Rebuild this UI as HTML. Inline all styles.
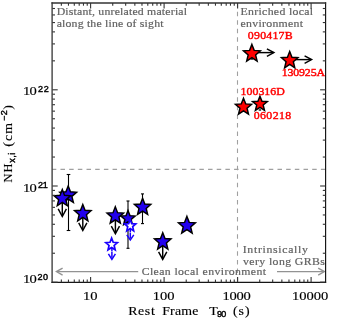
<!DOCTYPE html>
<html><head><meta charset="utf-8"><title>NH vs Rest Frame T90</title>
<style>
html,body{margin:0;padding:0;background:#fff;}
body{width:346px;height:325px;overflow:hidden;position:relative;font-family:"Liberation Serif",serif;}
svg text{white-space:pre;}
</style></head><body>
<svg width="346" height="325" viewBox="0 0 346 325" style="position:absolute;left:0;top:0;will-change:transform">
<rect x="0" y="0" width="346" height="325" fill="#fff"/>
<line x1="52.30" y1="169.40" x2="325.50" y2="169.40" stroke="#a0a0a0" stroke-width="1.10" stroke-dasharray="4.5 4.18" stroke-dashoffset="0.5"/>
<line x1="237.50" y1="3.00" x2="237.50" y2="282.30" stroke="#a0a0a0" stroke-width="1.10" stroke-dasharray="4.5 4.06" stroke-dashoffset="-0.1"/>
<line x1="138.20" y1="271.60" x2="56.90" y2="271.60" stroke="#929292" stroke-width="1.35" />
<polyline points="62.60,268.10 56.40,271.60 62.60,275.10" fill="none" stroke="#929292" stroke-width="1.35" stroke-linejoin="miter"/>
<line x1="277.00" y1="271.60" x2="323.90" y2="271.60" stroke="#929292" stroke-width="1.35" />
<polyline points="318.20,268.10 324.40,271.60 318.20,275.10" fill="none" stroke="#929292" stroke-width="1.35" stroke-linejoin="miter"/>
<text transform="translate(56.65,15.20) scale(1.180,1.000)" font-family="'Liberation Serif'" font-size="10.00px" font-weight="normal" letter-spacing="0.166" fill="#626262" stroke="#626262" stroke-width="0.18">Distant, unrelated material</text>
<text transform="translate(56.65,26.70) scale(1.180,1.000)" font-family="'Liberation Serif'" font-size="10.00px" font-weight="normal" letter-spacing="0.158" fill="#626262" stroke="#626262" stroke-width="0.18">along the line of sight</text>
<text transform="translate(240.55,15.20) scale(1.180,1.000)" font-family="'Liberation Serif'" font-size="10.00px" font-weight="normal" letter-spacing="0.269" fill="#626262" stroke="#626262" stroke-width="0.18">Enriched local</text>
<text transform="translate(240.55,26.50) scale(1.180,1.000)" font-family="'Liberation Serif'" font-size="10.00px" font-weight="normal" letter-spacing="0.247" fill="#626262" stroke="#626262" stroke-width="0.18">environment</text>
<text transform="translate(242.75,253.40) scale(1.180,1.000)" font-family="'Liberation Serif'" font-size="10.00px" font-weight="normal" letter-spacing="0.579" fill="#626262" stroke="#626262" stroke-width="0.18">Intrinsically</text>
<text transform="translate(243.00,265.10) scale(1.180,1.000)" font-family="'Liberation Serif'" font-size="10.00px" font-weight="normal" letter-spacing="0.345" fill="#626262" stroke="#626262" stroke-width="0.18">very long GRBs</text>
<text transform="translate(141.65,274.80) scale(1.180,1.000)" font-family="'Liberation Serif'" font-size="10.00px" font-weight="normal" letter-spacing="0.328" fill="#626262" stroke="#626262" stroke-width="0.18">Clean local environment</text>
<line x1="68.50" y1="174.50" x2="68.50" y2="230.50" stroke="#000" stroke-width="1.10" />
<line x1="66.70" y1="174.50" x2="70.30" y2="174.50" stroke="#000" stroke-width="1.10" />
<line x1="66.70" y1="230.50" x2="70.30" y2="230.50" stroke="#000" stroke-width="1.10" />
<line x1="128.00" y1="201.00" x2="128.00" y2="248.30" stroke="#000" stroke-width="1.10" />
<line x1="126.50" y1="201.00" x2="129.50" y2="201.00" stroke="#000" stroke-width="1.10" />
<line x1="126.50" y1="248.30" x2="129.50" y2="248.30" stroke="#000" stroke-width="1.10" />
<line x1="142.50" y1="193.90" x2="142.50" y2="223.60" stroke="#000" stroke-width="1.10" />
<line x1="141.00" y1="193.90" x2="144.00" y2="193.90" stroke="#000" stroke-width="1.10" />
<line x1="141.00" y1="223.60" x2="144.00" y2="223.60" stroke="#000" stroke-width="1.10" />
<line x1="62.30" y1="199.00" x2="62.30" y2="216.00" stroke="#000" stroke-width="1.45" />
<polyline points="58.20,208.90 62.30,216.50 66.40,208.90" fill="none" stroke="#000" stroke-width="1.45" stroke-linejoin="miter"/>
<line x1="82.80" y1="213.50" x2="82.80" y2="230.00" stroke="#000" stroke-width="1.45" />
<polyline points="78.70,222.90 82.80,230.50 86.90,222.90" fill="none" stroke="#000" stroke-width="1.45" stroke-linejoin="miter"/>
<line x1="115.40" y1="215.20" x2="115.40" y2="233.20" stroke="#000" stroke-width="1.45" />
<polyline points="111.30,226.10 115.40,233.70 119.50,226.10" fill="none" stroke="#000" stroke-width="1.45" stroke-linejoin="miter"/>
<line x1="162.70" y1="241.50" x2="162.70" y2="258.90" stroke="#000" stroke-width="1.45" />
<polyline points="158.60,251.80 162.70,259.40 166.80,251.80" fill="none" stroke="#000" stroke-width="1.45" stroke-linejoin="miter"/>
<polygon points="68.20,185.95 70.48,191.84 76.57,192.27 71.88,196.34 73.37,202.50 68.20,199.13 63.03,202.50 64.52,196.34 59.83,192.27 65.92,191.84" fill="#2200ee" stroke="#000" stroke-width="1.45" stroke-miterlimit="10" stroke-linejoin="miter"/>
<polygon points="128.00,210.60 129.94,215.62 135.13,215.99 131.14,219.46 132.41,224.71 128.00,221.83 123.59,224.71 124.86,219.46 120.87,215.99 126.06,215.62" fill="#2200ee" stroke="#000" stroke-width="1.45" stroke-miterlimit="10" stroke-linejoin="miter"/>
<polygon points="142.60,198.26 144.82,204.02 150.78,204.44 146.20,208.42 147.65,214.44 142.60,211.14 137.55,214.44 139.00,208.42 134.42,204.44 140.38,204.02" fill="#2200ee" stroke="#000" stroke-width="1.45" stroke-miterlimit="10" stroke-linejoin="miter"/>
<polygon points="186.93,216.39 189.23,222.36 195.39,222.79 190.65,226.91 192.16,233.14 186.93,229.72 181.70,233.14 183.21,226.91 178.47,222.79 184.63,222.36" fill="#2200ee" stroke="#000" stroke-width="1.45" stroke-miterlimit="10" stroke-linejoin="miter"/>
<polygon points="62.30,189.56 64.52,195.32 70.48,195.74 65.90,199.72 67.35,205.74 62.30,202.44 57.25,205.74 58.70,199.72 54.12,195.74 60.08,195.32" fill="#2200ee" stroke="#000" stroke-width="1.45" stroke-miterlimit="10" stroke-linejoin="miter"/>
<polygon points="82.80,204.45 85.05,210.28 91.07,210.70 86.44,214.73 87.91,220.82 82.80,217.48 77.69,220.82 79.16,214.73 74.53,210.70 80.55,210.28" fill="#2200ee" stroke="#000" stroke-width="1.45" stroke-miterlimit="10" stroke-linejoin="miter"/>
<polygon points="115.30,206.85 117.55,212.68 123.57,213.10 118.94,217.13 120.41,223.22 115.30,219.88 110.19,223.22 111.66,217.13 107.03,213.10 113.05,212.68" fill="#2200ee" stroke="#000" stroke-width="1.45" stroke-miterlimit="10" stroke-linejoin="miter"/>
<polygon points="162.75,232.70 165.00,238.53 171.02,238.95 166.39,242.98 167.86,249.07 162.75,245.73 157.64,249.07 159.11,242.98 154.48,238.95 160.50,238.53" fill="#2200ee" stroke="#000" stroke-width="1.45" stroke-miterlimit="10" stroke-linejoin="miter"/>
<line x1="111.90" y1="245.20" x2="111.90" y2="258.90" stroke="#1a00ff" stroke-width="1.50" stroke-dasharray="6 0.6"/>
<polyline points="108.40,253.90 111.90,259.40 115.40,253.90" fill="none" stroke="#1a00ff" stroke-width="1.50" stroke-linejoin="miter"/>
<polygon points="111.60,238.13 113.18,242.30 117.40,242.60 114.15,245.48 115.19,249.83 111.60,247.45 108.01,249.83 109.05,245.48 105.80,242.60 110.02,242.30" fill="#fff" stroke="#1a00ff" stroke-width="1.70" stroke-miterlimit="10" stroke-linejoin="miter"/>
<line x1="130.30" y1="226.00" x2="130.30" y2="239.40" stroke="#1a00ff" stroke-width="1.50" stroke-dasharray="6 0.6"/>
<polyline points="126.80,234.90 130.30,239.90 133.80,234.90" fill="none" stroke="#1a00ff" stroke-width="1.50" stroke-linejoin="miter"/>
<polygon points="130.20,219.55 131.73,223.57 135.81,223.87 132.67,226.65 133.67,230.86 130.20,228.55 126.73,230.86 127.73,226.65 124.59,223.87 128.67,223.57" fill="#fff" stroke="#1a00ff" stroke-width="1.70" stroke-miterlimit="10" stroke-linejoin="miter"/>
<line x1="252.00" y1="52.60" x2="273.40" y2="52.60" stroke="#000" stroke-width="1.45" />
<polyline points="266.90,48.80 273.90,52.60 266.90,56.40" fill="none" stroke="#000" stroke-width="1.45" stroke-linejoin="miter"/>
<line x1="289.60" y1="59.60" x2="311.10" y2="59.60" stroke="#000" stroke-width="1.45" />
<polyline points="304.60,55.80 311.60,59.60 304.60,63.40" fill="none" stroke="#000" stroke-width="1.45" stroke-linejoin="miter"/>
<line x1="250.60" y1="59.00" x2="253.20" y2="59.00" stroke="#000" stroke-width="1.30" />
<line x1="258.70" y1="110.00" x2="261.10" y2="110.00" stroke="#000" stroke-width="1.30" />
<polygon points="251.90,44.39 254.20,50.36 260.36,50.79 255.62,54.91 257.13,61.14 251.90,57.72 246.67,61.14 248.18,54.91 243.44,50.79 249.60,50.36" fill="#ff0000" stroke="#000" stroke-width="1.45" stroke-miterlimit="10" stroke-linejoin="miter"/>
<polygon points="289.70,51.45 291.95,57.28 297.97,57.70 293.34,61.73 294.81,67.82 289.70,64.48 284.59,67.82 286.06,61.73 281.43,57.70 287.45,57.28" fill="#ff0000" stroke="#000" stroke-width="1.45" stroke-miterlimit="10" stroke-linejoin="miter"/>
<polygon points="243.50,98.16 245.70,103.85 251.58,104.27 247.06,108.20 248.50,114.15 243.50,110.89 238.50,114.15 239.94,108.20 235.42,104.27 241.30,103.85" fill="#ff0000" stroke="#000" stroke-width="1.45" stroke-miterlimit="10" stroke-linejoin="miter"/>
<polygon points="259.95,96.20 261.97,101.22 267.37,101.59 263.21,105.06 264.53,110.31 259.95,107.43 255.37,110.31 256.69,105.06 252.53,101.59 257.93,101.22" fill="#ff0000" stroke="#000" stroke-width="1.45" stroke-miterlimit="10" stroke-linejoin="miter"/>
<text transform="translate(247.85,39.00) scale(1.120,1.000)" font-family="'Liberation Serif'" font-size="10.60px" font-weight="normal" letter-spacing="0.193" fill="#ff0000" stroke="#ff0000" stroke-width="0.40">090417B</text>
<text transform="translate(281.65,76.20) scale(1.120,1.000)" font-family="'Liberation Serif'" font-size="10.60px" font-weight="normal" letter-spacing="-0.118" fill="#ff0000" stroke="#ff0000" stroke-width="0.40">130925A</text>
<text transform="translate(240.45,94.70) scale(1.120,1.000)" font-family="'Liberation Serif'" font-size="10.60px" font-weight="normal" letter-spacing="0.037" fill="#ff0000" stroke="#ff0000" stroke-width="0.40">100316D</text>
<text transform="translate(253.65,118.90) scale(1.120,1.000)" font-family="'Liberation Serif'" font-size="10.60px" font-weight="normal" letter-spacing="0.354" fill="#ff0000" stroke="#ff0000" stroke-width="0.40">060218</text>
<line x1="52.10" y1="2.35" x2="52.10" y2="283.05" stroke="#333" stroke-width="1.30" />
<line x1="325.60" y1="2.35" x2="325.60" y2="283.05" stroke="#111" stroke-width="1.15" />
<line x1="51.45" y1="3.00" x2="326.15" y2="3.00" stroke="#333" stroke-width="1.30" />
<line x1="51.45" y1="282.40" x2="326.15" y2="282.40" stroke="#161616" stroke-width="1.30" />
<line x1="61.35" y1="282.30" x2="61.35" y2="279.60" stroke="#333" stroke-width="1.10" />
<line x1="61.35" y1="3.00" x2="61.35" y2="5.70" stroke="#333" stroke-width="1.10" />
<line x1="68.47" y1="282.30" x2="68.47" y2="279.60" stroke="#333" stroke-width="1.10" />
<line x1="68.47" y1="3.00" x2="68.47" y2="5.70" stroke="#333" stroke-width="1.10" />
<line x1="74.29" y1="282.30" x2="74.29" y2="279.60" stroke="#333" stroke-width="1.10" />
<line x1="74.29" y1="3.00" x2="74.29" y2="5.70" stroke="#333" stroke-width="1.10" />
<line x1="79.21" y1="282.30" x2="79.21" y2="279.60" stroke="#333" stroke-width="1.10" />
<line x1="79.21" y1="3.00" x2="79.21" y2="5.70" stroke="#333" stroke-width="1.10" />
<line x1="83.48" y1="282.30" x2="83.48" y2="279.60" stroke="#333" stroke-width="1.10" />
<line x1="83.48" y1="3.00" x2="83.48" y2="5.70" stroke="#333" stroke-width="1.10" />
<line x1="87.24" y1="282.30" x2="87.24" y2="279.60" stroke="#333" stroke-width="1.10" />
<line x1="87.24" y1="3.00" x2="87.24" y2="5.70" stroke="#333" stroke-width="1.10" />
<line x1="90.60" y1="282.30" x2="90.60" y2="276.90" stroke="#333" stroke-width="1.10" />
<line x1="90.60" y1="3.00" x2="90.60" y2="8.40" stroke="#333" stroke-width="1.10" />
<line x1="112.73" y1="282.30" x2="112.73" y2="279.60" stroke="#333" stroke-width="1.10" />
<line x1="112.73" y1="3.00" x2="112.73" y2="5.70" stroke="#333" stroke-width="1.10" />
<line x1="125.67" y1="282.30" x2="125.67" y2="279.60" stroke="#333" stroke-width="1.10" />
<line x1="125.67" y1="3.00" x2="125.67" y2="5.70" stroke="#333" stroke-width="1.10" />
<line x1="134.85" y1="282.30" x2="134.85" y2="279.60" stroke="#333" stroke-width="1.10" />
<line x1="134.85" y1="3.00" x2="134.85" y2="5.70" stroke="#333" stroke-width="1.10" />
<line x1="141.97" y1="282.30" x2="141.97" y2="279.60" stroke="#333" stroke-width="1.10" />
<line x1="141.97" y1="3.00" x2="141.97" y2="5.70" stroke="#333" stroke-width="1.10" />
<line x1="147.79" y1="282.30" x2="147.79" y2="279.60" stroke="#333" stroke-width="1.10" />
<line x1="147.79" y1="3.00" x2="147.79" y2="5.70" stroke="#333" stroke-width="1.10" />
<line x1="152.71" y1="282.30" x2="152.71" y2="279.60" stroke="#333" stroke-width="1.10" />
<line x1="152.71" y1="3.00" x2="152.71" y2="5.70" stroke="#333" stroke-width="1.10" />
<line x1="156.98" y1="282.30" x2="156.98" y2="279.60" stroke="#333" stroke-width="1.10" />
<line x1="156.98" y1="3.00" x2="156.98" y2="5.70" stroke="#333" stroke-width="1.10" />
<line x1="160.74" y1="282.30" x2="160.74" y2="279.60" stroke="#333" stroke-width="1.10" />
<line x1="160.74" y1="3.00" x2="160.74" y2="5.70" stroke="#333" stroke-width="1.10" />
<line x1="164.10" y1="282.30" x2="164.10" y2="276.90" stroke="#333" stroke-width="1.10" />
<line x1="164.10" y1="3.00" x2="164.10" y2="8.40" stroke="#333" stroke-width="1.10" />
<line x1="186.23" y1="282.30" x2="186.23" y2="279.60" stroke="#333" stroke-width="1.10" />
<line x1="186.23" y1="3.00" x2="186.23" y2="5.70" stroke="#333" stroke-width="1.10" />
<line x1="199.17" y1="282.30" x2="199.17" y2="279.60" stroke="#333" stroke-width="1.10" />
<line x1="199.17" y1="3.00" x2="199.17" y2="5.70" stroke="#333" stroke-width="1.10" />
<line x1="208.35" y1="282.30" x2="208.35" y2="279.60" stroke="#333" stroke-width="1.10" />
<line x1="208.35" y1="3.00" x2="208.35" y2="5.70" stroke="#333" stroke-width="1.10" />
<line x1="215.47" y1="282.30" x2="215.47" y2="279.60" stroke="#333" stroke-width="1.10" />
<line x1="215.47" y1="3.00" x2="215.47" y2="5.70" stroke="#333" stroke-width="1.10" />
<line x1="221.29" y1="282.30" x2="221.29" y2="279.60" stroke="#333" stroke-width="1.10" />
<line x1="221.29" y1="3.00" x2="221.29" y2="5.70" stroke="#333" stroke-width="1.10" />
<line x1="226.21" y1="282.30" x2="226.21" y2="279.60" stroke="#333" stroke-width="1.10" />
<line x1="226.21" y1="3.00" x2="226.21" y2="5.70" stroke="#333" stroke-width="1.10" />
<line x1="230.48" y1="282.30" x2="230.48" y2="279.60" stroke="#333" stroke-width="1.10" />
<line x1="230.48" y1="3.00" x2="230.48" y2="5.70" stroke="#333" stroke-width="1.10" />
<line x1="234.24" y1="282.30" x2="234.24" y2="279.60" stroke="#333" stroke-width="1.10" />
<line x1="234.24" y1="3.00" x2="234.24" y2="5.70" stroke="#333" stroke-width="1.10" />
<line x1="237.60" y1="282.30" x2="237.60" y2="276.90" stroke="#333" stroke-width="1.10" />
<line x1="237.60" y1="3.00" x2="237.60" y2="8.40" stroke="#333" stroke-width="1.10" />
<line x1="259.73" y1="282.30" x2="259.73" y2="279.60" stroke="#333" stroke-width="1.10" />
<line x1="259.73" y1="3.00" x2="259.73" y2="5.70" stroke="#333" stroke-width="1.10" />
<line x1="272.67" y1="282.30" x2="272.67" y2="279.60" stroke="#333" stroke-width="1.10" />
<line x1="272.67" y1="3.00" x2="272.67" y2="5.70" stroke="#333" stroke-width="1.10" />
<line x1="281.85" y1="282.30" x2="281.85" y2="279.60" stroke="#333" stroke-width="1.10" />
<line x1="281.85" y1="3.00" x2="281.85" y2="5.70" stroke="#333" stroke-width="1.10" />
<line x1="288.97" y1="282.30" x2="288.97" y2="279.60" stroke="#333" stroke-width="1.10" />
<line x1="288.97" y1="3.00" x2="288.97" y2="5.70" stroke="#333" stroke-width="1.10" />
<line x1="294.79" y1="282.30" x2="294.79" y2="279.60" stroke="#333" stroke-width="1.10" />
<line x1="294.79" y1="3.00" x2="294.79" y2="5.70" stroke="#333" stroke-width="1.10" />
<line x1="299.71" y1="282.30" x2="299.71" y2="279.60" stroke="#333" stroke-width="1.10" />
<line x1="299.71" y1="3.00" x2="299.71" y2="5.70" stroke="#333" stroke-width="1.10" />
<line x1="303.98" y1="282.30" x2="303.98" y2="279.60" stroke="#333" stroke-width="1.10" />
<line x1="303.98" y1="3.00" x2="303.98" y2="5.70" stroke="#333" stroke-width="1.10" />
<line x1="307.74" y1="282.30" x2="307.74" y2="279.60" stroke="#333" stroke-width="1.10" />
<line x1="307.74" y1="3.00" x2="307.74" y2="5.70" stroke="#333" stroke-width="1.10" />
<line x1="311.10" y1="282.30" x2="311.10" y2="276.90" stroke="#333" stroke-width="1.10" />
<line x1="311.10" y1="3.00" x2="311.10" y2="8.40" stroke="#333" stroke-width="1.10" />
<line x1="52.30" y1="282.20" x2="57.70" y2="282.20" stroke="#333" stroke-width="1.10" />
<line x1="325.50" y1="282.20" x2="320.10" y2="282.20" stroke="#333" stroke-width="1.10" />
<line x1="52.30" y1="253.24" x2="55.00" y2="253.24" stroke="#333" stroke-width="1.10" />
<line x1="325.50" y1="253.24" x2="322.80" y2="253.24" stroke="#333" stroke-width="1.10" />
<line x1="52.30" y1="236.30" x2="55.00" y2="236.30" stroke="#333" stroke-width="1.10" />
<line x1="325.50" y1="236.30" x2="322.80" y2="236.30" stroke="#333" stroke-width="1.10" />
<line x1="52.30" y1="224.28" x2="55.00" y2="224.28" stroke="#333" stroke-width="1.10" />
<line x1="325.50" y1="224.28" x2="322.80" y2="224.28" stroke="#333" stroke-width="1.10" />
<line x1="52.30" y1="214.96" x2="55.00" y2="214.96" stroke="#333" stroke-width="1.10" />
<line x1="325.50" y1="214.96" x2="322.80" y2="214.96" stroke="#333" stroke-width="1.10" />
<line x1="52.30" y1="207.34" x2="55.00" y2="207.34" stroke="#333" stroke-width="1.10" />
<line x1="325.50" y1="207.34" x2="322.80" y2="207.34" stroke="#333" stroke-width="1.10" />
<line x1="52.30" y1="200.90" x2="55.00" y2="200.90" stroke="#333" stroke-width="1.10" />
<line x1="325.50" y1="200.90" x2="322.80" y2="200.90" stroke="#333" stroke-width="1.10" />
<line x1="52.30" y1="195.32" x2="55.00" y2="195.32" stroke="#333" stroke-width="1.10" />
<line x1="325.50" y1="195.32" x2="322.80" y2="195.32" stroke="#333" stroke-width="1.10" />
<line x1="52.30" y1="190.40" x2="55.00" y2="190.40" stroke="#333" stroke-width="1.10" />
<line x1="325.50" y1="190.40" x2="322.80" y2="190.40" stroke="#333" stroke-width="1.10" />
<line x1="52.30" y1="186.00" x2="57.70" y2="186.00" stroke="#333" stroke-width="1.10" />
<line x1="325.50" y1="186.00" x2="320.10" y2="186.00" stroke="#333" stroke-width="1.10" />
<line x1="52.30" y1="157.04" x2="55.00" y2="157.04" stroke="#333" stroke-width="1.10" />
<line x1="325.50" y1="157.04" x2="322.80" y2="157.04" stroke="#333" stroke-width="1.10" />
<line x1="52.30" y1="140.10" x2="55.00" y2="140.10" stroke="#333" stroke-width="1.10" />
<line x1="325.50" y1="140.10" x2="322.80" y2="140.10" stroke="#333" stroke-width="1.10" />
<line x1="52.30" y1="128.08" x2="55.00" y2="128.08" stroke="#333" stroke-width="1.10" />
<line x1="325.50" y1="128.08" x2="322.80" y2="128.08" stroke="#333" stroke-width="1.10" />
<line x1="52.30" y1="118.76" x2="55.00" y2="118.76" stroke="#333" stroke-width="1.10" />
<line x1="325.50" y1="118.76" x2="322.80" y2="118.76" stroke="#333" stroke-width="1.10" />
<line x1="52.30" y1="111.14" x2="55.00" y2="111.14" stroke="#333" stroke-width="1.10" />
<line x1="325.50" y1="111.14" x2="322.80" y2="111.14" stroke="#333" stroke-width="1.10" />
<line x1="52.30" y1="104.70" x2="55.00" y2="104.70" stroke="#333" stroke-width="1.10" />
<line x1="325.50" y1="104.70" x2="322.80" y2="104.70" stroke="#333" stroke-width="1.10" />
<line x1="52.30" y1="99.12" x2="55.00" y2="99.12" stroke="#333" stroke-width="1.10" />
<line x1="325.50" y1="99.12" x2="322.80" y2="99.12" stroke="#333" stroke-width="1.10" />
<line x1="52.30" y1="94.20" x2="55.00" y2="94.20" stroke="#333" stroke-width="1.10" />
<line x1="325.50" y1="94.20" x2="322.80" y2="94.20" stroke="#333" stroke-width="1.10" />
<line x1="52.30" y1="89.80" x2="57.70" y2="89.80" stroke="#333" stroke-width="1.10" />
<line x1="325.50" y1="89.80" x2="320.10" y2="89.80" stroke="#333" stroke-width="1.10" />
<line x1="52.30" y1="60.84" x2="55.00" y2="60.84" stroke="#333" stroke-width="1.10" />
<line x1="325.50" y1="60.84" x2="322.80" y2="60.84" stroke="#333" stroke-width="1.10" />
<line x1="52.30" y1="43.90" x2="55.00" y2="43.90" stroke="#333" stroke-width="1.10" />
<line x1="325.50" y1="43.90" x2="322.80" y2="43.90" stroke="#333" stroke-width="1.10" />
<line x1="52.30" y1="31.88" x2="55.00" y2="31.88" stroke="#333" stroke-width="1.10" />
<line x1="325.50" y1="31.88" x2="322.80" y2="31.88" stroke="#333" stroke-width="1.10" />
<line x1="52.30" y1="22.56" x2="55.00" y2="22.56" stroke="#333" stroke-width="1.10" />
<line x1="325.50" y1="22.56" x2="322.80" y2="22.56" stroke="#333" stroke-width="1.10" />
<line x1="52.30" y1="14.94" x2="55.00" y2="14.94" stroke="#333" stroke-width="1.10" />
<line x1="325.50" y1="14.94" x2="322.80" y2="14.94" stroke="#333" stroke-width="1.10" />
<line x1="52.30" y1="8.50" x2="55.00" y2="8.50" stroke="#333" stroke-width="1.10" />
<line x1="325.50" y1="8.50" x2="322.80" y2="8.50" stroke="#333" stroke-width="1.10" />
<text transform="translate(82.95,300.30) scale(1.120,1.000)" font-family="'Liberation Serif'" font-size="13.00px" font-weight="normal" letter-spacing="0.040" fill="#000" stroke="#000" stroke-width="0.16">10</text>
<text transform="translate(152.75,300.30) scale(1.120,1.000)" font-family="'Liberation Serif'" font-size="13.00px" font-weight="normal" letter-spacing="-0.022" fill="#000" stroke="#000" stroke-width="0.16">100</text>
<text transform="translate(222.55,300.30) scale(1.120,1.000)" font-family="'Liberation Serif'" font-size="13.00px" font-weight="normal" letter-spacing="-0.246" fill="#000" stroke="#000" stroke-width="0.16">1000</text>
<text transform="translate(292.05,300.30) scale(1.120,1.000)" font-family="'Liberation Serif'" font-size="13.00px" font-weight="normal" letter-spacing="-0.033" fill="#000" stroke="#000" stroke-width="0.16">10000</text>
<text transform="translate(23.05,95.10) scale(1.120,1.000)" font-family="'Liberation Serif'" font-size="13.00px" font-weight="normal" letter-spacing="-0.680" fill="#000" stroke="#000" stroke-width="0.16">10</text>
<text transform="translate(37.95,91.60) scale(1.050,1.000)" font-family="'Liberation Sans'" font-size="8.60px" font-weight="normal" letter-spacing="0.800" fill="#000" stroke="#000" stroke-width="0.40">22</text>
<text transform="translate(23.05,191.50) scale(1.120,1.000)" font-family="'Liberation Serif'" font-size="13.00px" font-weight="normal" letter-spacing="-0.680" fill="#000" stroke="#000" stroke-width="0.16">10</text>
<text transform="translate(37.95,188.00) scale(1.050,1.000)" font-family="'Liberation Sans'" font-size="8.60px" font-weight="normal" letter-spacing="-0.300" fill="#000" stroke="#000" stroke-width="0.40">21</text>
<text transform="translate(23.05,283.40) scale(1.120,1.000)" font-family="'Liberation Serif'" font-size="13.00px" font-weight="normal" letter-spacing="-0.680" fill="#000" stroke="#000" stroke-width="0.16">10</text>
<text transform="translate(37.45,279.90) scale(1.050,1.000)" font-family="'Liberation Sans'" font-size="8.60px" font-weight="normal" letter-spacing="0.550" fill="#000" stroke="#000" stroke-width="0.40">20</text>
<text transform="translate(128.20,314.80) scale(1.120,1.000)" font-family="'Liberation Serif'" font-size="12.40px" font-weight="normal" letter-spacing="0.554" fill="#000" stroke="#000" stroke-width="0.14">Rest</text>
<text transform="translate(162.15,314.80) scale(1.120,1.000)" font-family="'Liberation Serif'" font-size="12.40px" font-weight="normal" letter-spacing="0.189" fill="#000" stroke="#000" stroke-width="0.14">Frame</text>
<text transform="translate(209.35,314.80) scale(1.120,1.000)" font-family="'Liberation Serif'" font-size="12.40px" font-weight="normal" letter-spacing="0.000" fill="#000" stroke="#000" stroke-width="0.14">T</text>
<text transform="translate(216.95,316.50) scale(1.050,1.000)" font-family="'Liberation Sans'" font-size="8.60px" font-weight="normal" letter-spacing="-0.650" fill="#000" stroke="#000" stroke-width="0.40">90</text>
<text transform="translate(233.00,314.80) scale(1.120,1.000)" font-family="'Liberation Serif'" font-size="12.40px" font-weight="normal" letter-spacing="0.889" fill="#000" stroke="#000" stroke-width="0.14">(s)</text>
<g transform="translate(12.0,182.3) rotate(-90)">
<text transform="translate(-0.25,0.00) scale(1.000,1.000)" font-family="'Liberation Serif'" font-size="12.40px" font-weight="normal" letter-spacing="1.000" fill="#000" stroke="#000" stroke-width="0.14">NH</text>
<text transform="translate(19.55,3.20) scale(1.050,1.000)" font-family="'Liberation Sans'" font-size="8.60px" font-weight="normal" letter-spacing="0.500" fill="#000" stroke="#000" stroke-width="0.40">x,i</text>
<text transform="translate(35.60,0.00) scale(1.120,1.000)" font-family="'Liberation Serif'" font-size="12.40px" font-weight="normal" letter-spacing="0.978" fill="#000" stroke="#000" stroke-width="0.14">(cm</text>
<text transform="translate(61.25,-4.60) scale(1.050,1.000)" font-family="'Liberation Sans'" font-size="8.60px" font-weight="normal" letter-spacing="0.550" fill="#000" stroke="#000" stroke-width="0.40">−2</text>
<text transform="translate(72.55,0.00) scale(1.120,1.000)" font-family="'Liberation Serif'" font-size="12.40px" font-weight="normal" letter-spacing="0.000" fill="#000" stroke="#000" stroke-width="0.14">)</text>
</g>
</svg>
</body></html>
